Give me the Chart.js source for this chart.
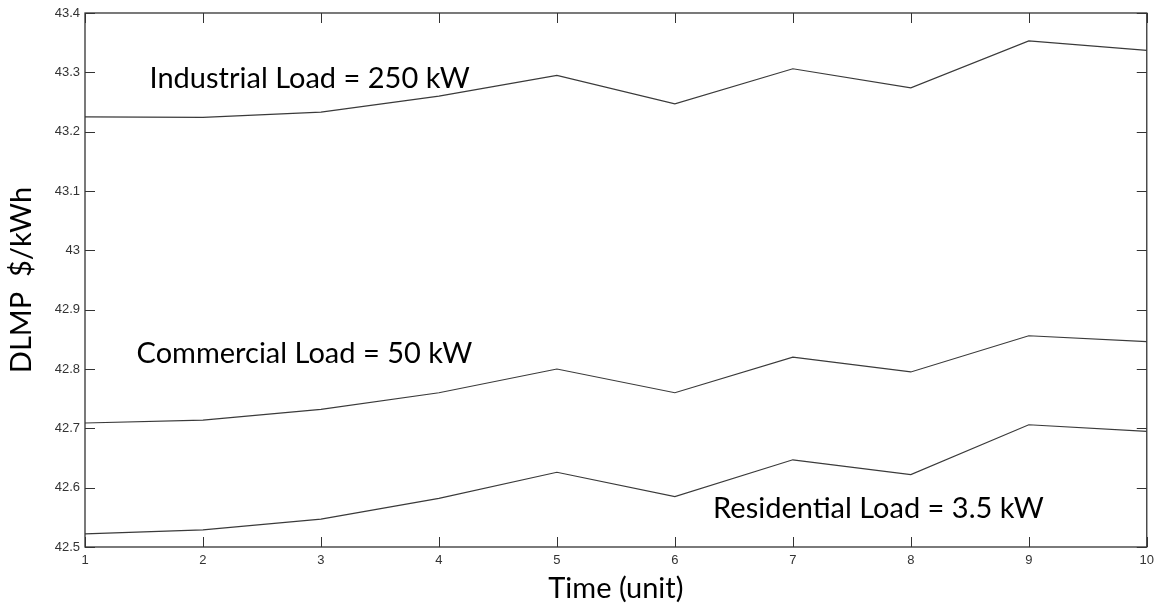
<!DOCTYPE html>
<html lang="en">
<head>
    <meta charset="UTF-8" />
    <title>DLMP by load type</title>
    <script src="https://cdn.jsdelivr.net/npm/chart.js"></script>
    <style>
        html, body { margin: 0; padding: 0; background: #fff; }
        #wrap { width: 1160px; height: 607px; }
    </style>
</head>
<body>
    <div id="wrap"><canvas id="dlmpChart"></canvas></div>
    <script>
    // time steps and DLMP ($/kWh) for each load class
    const timeSteps = [1, 2, 3, 4, 5, 6, 7, 8, 9, 10];
    const industrialLoad = [43.225, 43.224, 43.233, 43.260, 43.295, 43.247, 43.306, 43.274, 43.353, 43.337];
    const commercialLoad = [42.709, 42.714, 42.732, 42.760, 42.800, 42.760, 42.820, 42.795, 42.856, 42.846];
    const residentialLoad = [42.522, 42.529, 42.547, 42.582, 42.626, 42.585, 42.647, 42.622, 42.706, 42.695];
    const yTicks = [42.5, 42.6, 42.7, 42.8, 42.9, 43.0, 43.1, 43.2, 43.3, 43.4];

    const labelFont = '29px Lato';

    // boxed axes with inward tick marks on all four sides, plus the load captions
    const framePlugin = {
        id: 'frame',
        afterDraw(chart, args, opts) {
            const { ctx, chartArea: a, scales: { x, y } } = chart;
            ctx.save();
            ctx.strokeStyle = '#333';
            ctx.lineWidth = 1.3;
            ctx.strokeRect(a.left, a.top, a.right - a.left, a.bottom - a.top);
            ctx.lineWidth = 1;
            const len = 10;
            ctx.beginPath();
            x.ticks.forEach(t => {
                const px = Math.round(x.getPixelForValue(t.value)) + 0.5;
                ctx.moveTo(px, a.bottom); ctx.lineTo(px, a.bottom - len);
                ctx.moveTo(px, a.top); ctx.lineTo(px, a.top + len);
            });
            y.ticks.forEach(t => {
                const py = Math.round(y.getPixelForValue(t.value)) + 0.5;
                ctx.moveTo(a.left, py); ctx.lineTo(a.left + len, py);
                ctx.moveTo(a.right, py); ctx.lineTo(a.right - len, py);
            });
            ctx.stroke();

            ctx.fillStyle = '#000';
            ctx.font = labelFont;
            ctx.textAlign = 'left';
            ctx.textBaseline = 'alphabetic';
            opts.captions.forEach(c => {
                ctx.fillText(c.text, x.getPixelForValue(c.x), y.getPixelForValue(c.y));
            });
            ctx.restore();
        }
    };

    const lineStyle = {
        borderColor: '#3a3a3a',
        borderWidth: 1.2,
        pointRadius: 0,
        tension: 0,
        fill: false
    };

    new Chart(document.getElementById('dlmpChart'), {
        type: 'line',
        data: {
            datasets: [
                { label: 'Industrial', data: timeSteps.map((t, i) => ({ x: t, y: industrialLoad[i] })), ...lineStyle },
                { label: 'Commercial', data: timeSteps.map((t, i) => ({ x: t, y: commercialLoad[i] })), ...lineStyle },
                { label: 'Residential', data: timeSteps.map((t, i) => ({ x: t, y: residentialLoad[i] })), ...lineStyle }
            ]
        },
        options: {
            responsive: true,
            maintainAspectRatio: false,
            animation: false,
            layout: { padding: { top: 13, right: 5, left: 0, bottom: 0 } },
            plugins: {
                legend: { display: false },
                tooltip: { enabled: false },
                frame: {
                    captions: [
                        { text: 'Industrial Load = 250 kW', x: 1.547, y: 43.274 },
                        { text: 'Commercial Load = 50 kW', x: 1.437, y: 42.81 },
                        { text: 'Residential Load = 3.5 kW', x: 6.324, y: 42.549 }
                    ]
                }
            },
            scales: {
                x: {
                    type: 'linear',
                    min: 1,
                    max: 10,
                    afterBuildTicks: s => { s.ticks = timeSteps.map(v => ({ value: v })); },
                    afterFit: s => { s.height = 60; },
                    grid: { display: false, drawTicks: false },
                    border: { display: false },
                    ticks: { color: '#333', padding: 6, font: { family: 'Liberation Sans', size: 13 } },
                    title: {
                        display: true,
                        text: 'Time (unit)',
                        color: '#000',
                        font: { family: 'Lato', size: 29 },
                        padding: { top: 0, bottom: 1 }
                    }
                },
                y: {
                    min: 42.5,
                    max: 43.4,
                    afterBuildTicks: s => { s.ticks = yTicks.map(v => ({ value: v })); },
                    afterFit: s => { s.width = 85; },
                    grid: { display: false, drawTicks: false },
                    border: { display: false },
                    ticks: {
                        color: '#333',
                        padding: 5,
                        font: { family: 'Liberation Sans', size: 13 },
                        callback: v => String(Number(v.toFixed(1)))
                    },
                    title: {
                        display: true,
                        text: 'DLMP  $/kWh',
                        color: '#000',
                        font: { family: 'Lato', size: 29 },
                        padding: { top: 4, bottom: 0 }
                    }
                }
            }
        },
        plugins: [framePlugin]
    });
    </script>
</body>
</html>
